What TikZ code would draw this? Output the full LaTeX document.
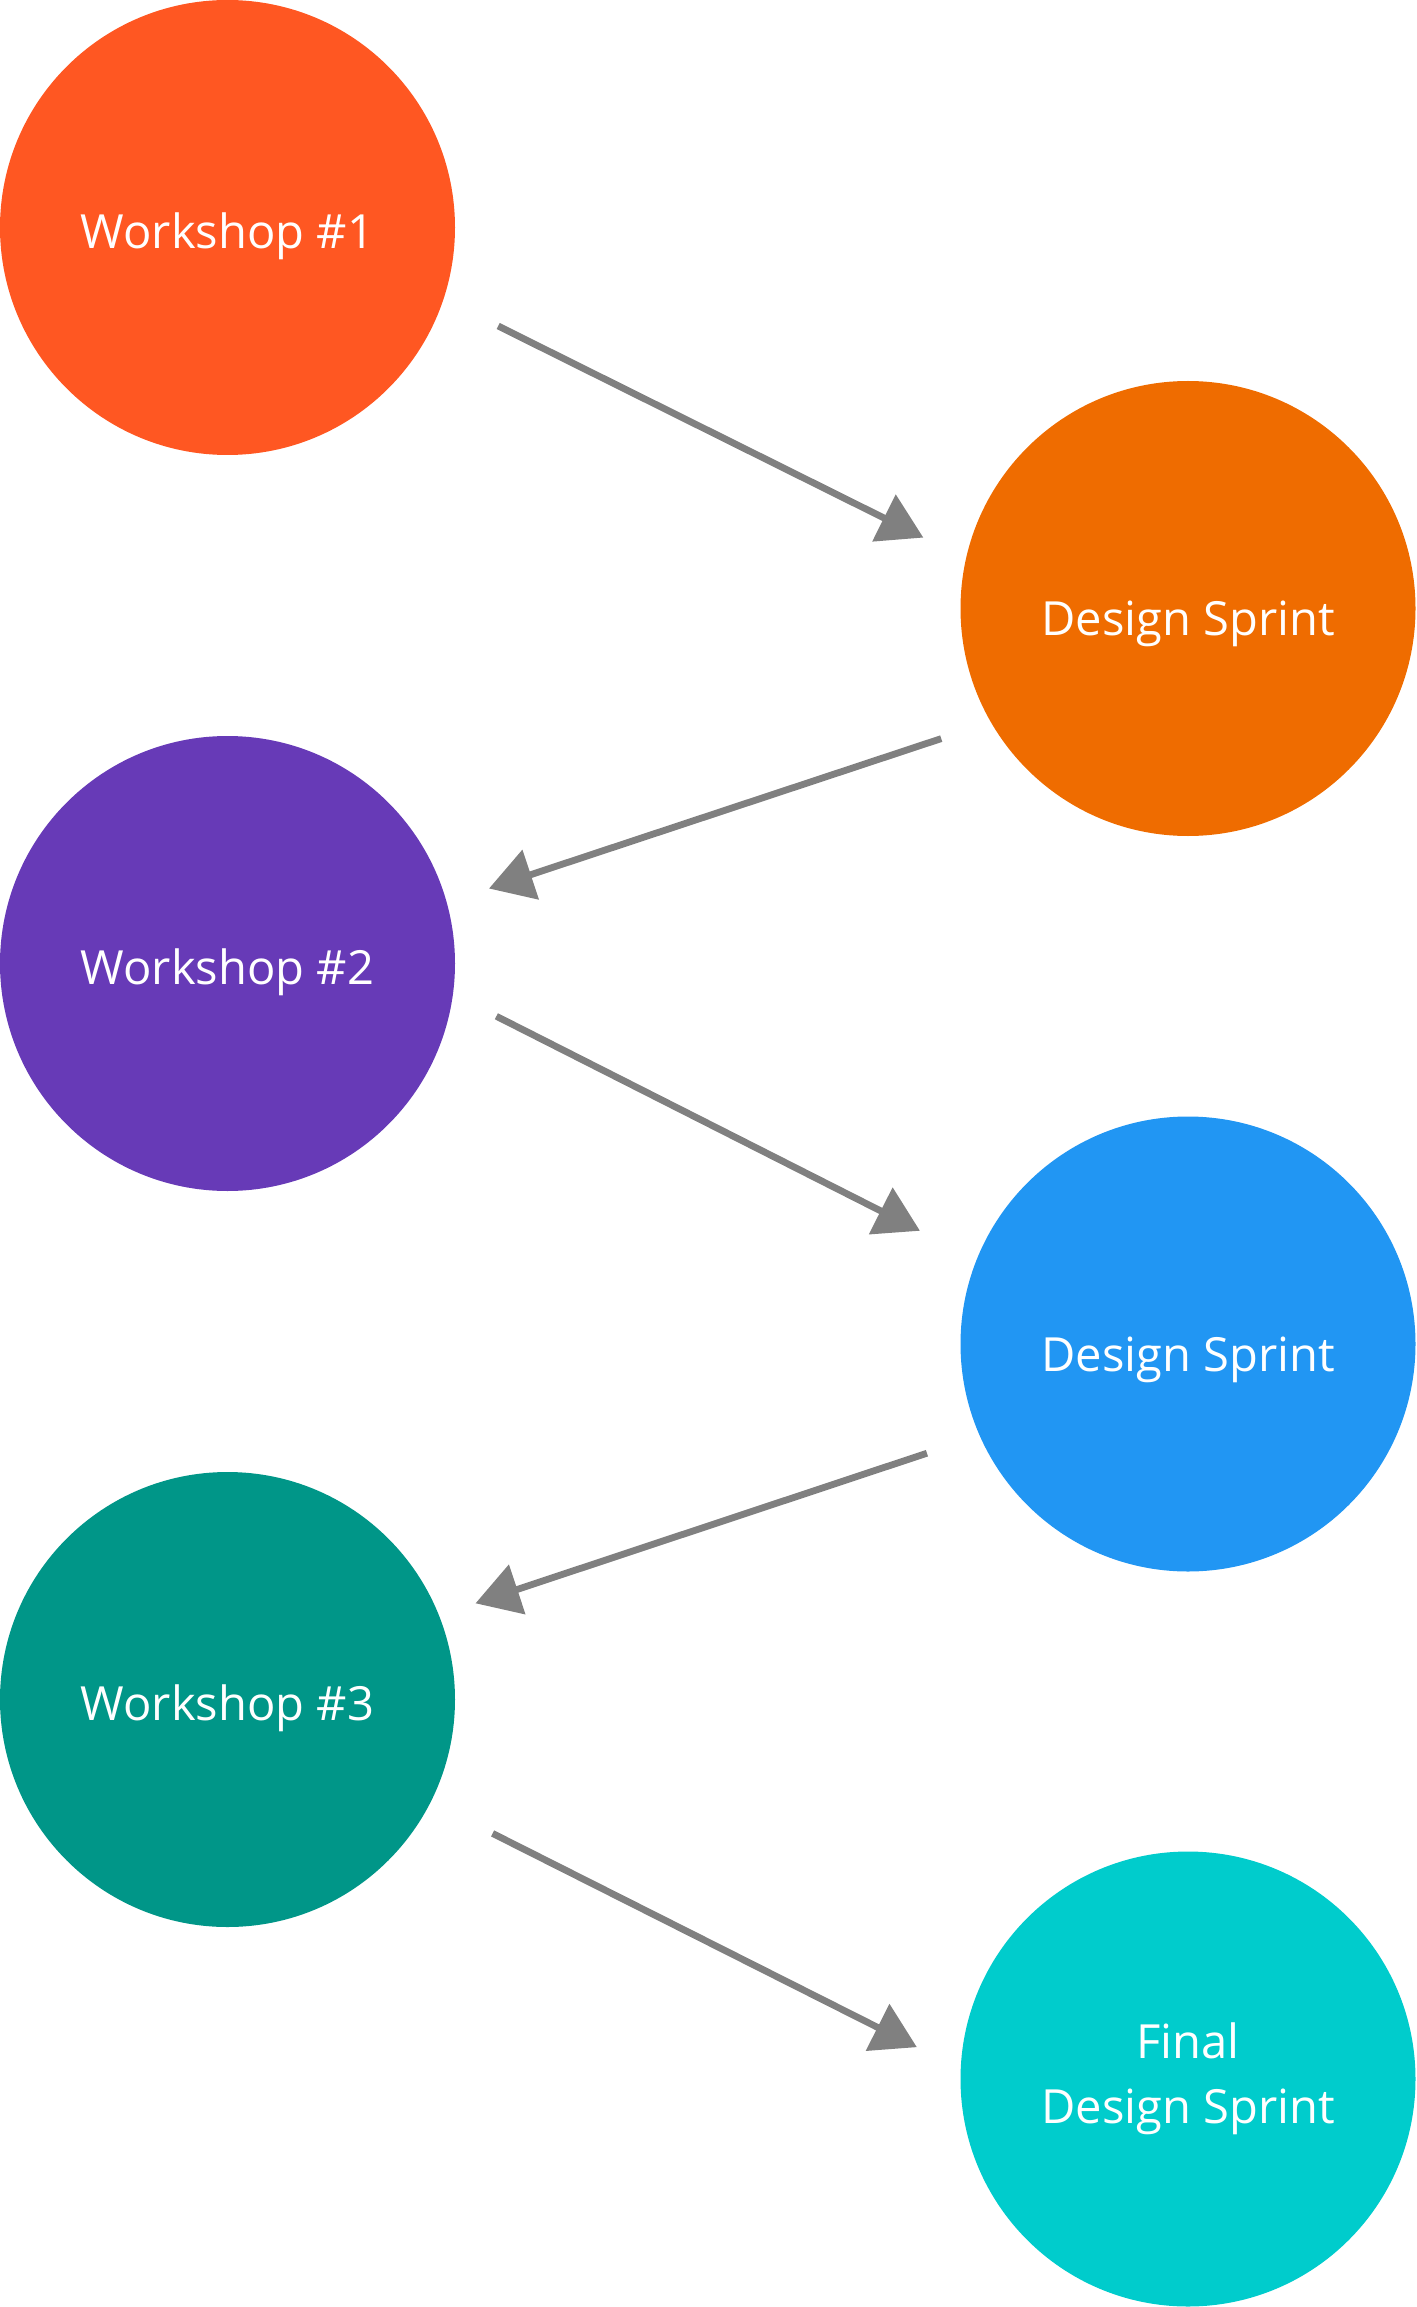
\documentclass[tikz,border=0pt]{standalone}
\usepackage{fontspec}
\setmainfont{Open Sans}
\usetikzlibrary{arrows.meta,calc}

\definecolor{wsred}{HTML}{FF5722}
\definecolor{dsorange}{HTML}{EF6C00}
\definecolor{wspurple}{HTML}{673AB7}
\definecolor{dsblue}{HTML}{2196F3}
\definecolor{wsteal}{HTML}{009688}
\definecolor{fdscyan}{HTML}{00CCCC}
\definecolor{flowgray}{HTML}{808080}

\tikzset{
  stage/.style={circle, minimum size=4.55cm, inner sep=0pt, text=white,
    align=center, font=\fontsize{13.4}{18.5}\selectfont},
  oneline/.style={text depth=0pt, text height=#1},
  oneline/.default=12.2pt,
  flow/.style={draw=flowgray, line width=0.068cm,
    -{Triangle[length=0.44cm, width=0.51cm]}}
}

\begin{document}
\begin{tikzpicture}
\useasboundingbox (0,0) rectangle (14.16,-23.07);

%ympyrat
\node[stage, oneline, fill=wsred] (w1) at (2.275,-2.275) {Workshop \#1};
\node[stage, oneline=15.4pt, fill=dsorange] (ds1) at (11.88,-6.085) {Design Sprint};
\node[stage, oneline, fill=wspurple] (w2) at (2.275,-9.635) {Workshop \#2};
\node[stage, oneline=15.4pt, fill=dsblue] (ds2) at (11.88,-13.44) {Design Sprint};
\node[stage, oneline, fill=wsteal] (w3) at (2.275,-16.995) {Workshop \#3};
\node[stage, fill=fdscyan] (fds) at (11.88,-20.79) {Final\\Design Sprint};

%nuolet
\coordinate (a1) at ($(w1.center)+(-20:2.88)$);
\coordinate (b1) at ($(ds1.center)+(165:2.74)$);
\coordinate (a2) at ($(ds1.center)+(207.8:2.79)$);
\coordinate (b2) at ($(w2.center)+(16:2.72)$);
\coordinate (a3) at ($(w2.center)+(-11.1:2.74)$);
\coordinate (b3) at ($(ds2.center)+(157.1:2.91)$);
\coordinate (a4) at ($(ds2.center)+(202.7:2.83)$);
\coordinate (b4) at ($(w3.center)+(21.2:2.66)$);
\coordinate (a5) at ($(w3.center)+(-26.8:2.97)$);
\coordinate (b5) at ($(fds.center)+(173.3:2.73)$);
\draw[flow] (a1) -- (b1);
\draw[flow] (a2) -- (b2);
\draw[flow] (a3) -- (b3);
\draw[flow] (a4) -- (b4);
\draw[flow] (a5) -- (b5);

\end{tikzpicture}
\end{document}
